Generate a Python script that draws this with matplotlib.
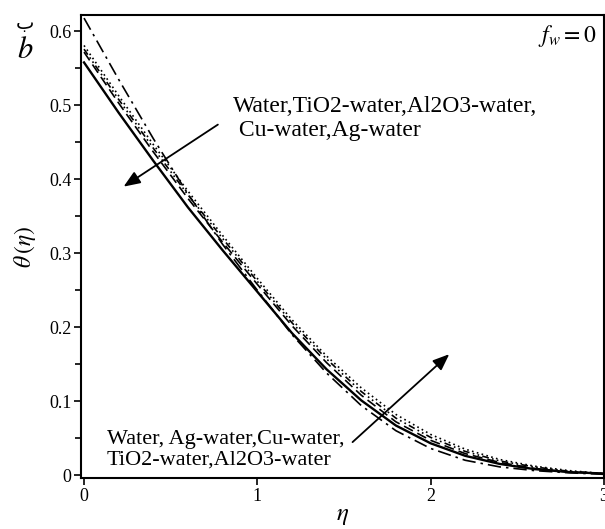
import numpy as np
import matplotlib.pyplot as plt

# eta grid and temperature profiles
eta = [0.0, 0.2, 0.4, 0.6, 0.8, 1.0, 1.2, 1.4, 1.6, 1.8, 2.0, 2.2, 2.4, 2.6, 2.8, 3.0]
water = [0.558, 0.490, 0.425, 0.362, 0.304, 0.248, 0.192, 0.143, 0.101, 0.067, 0.043, 0.026, 0.015, 0.008, 0.004, 0.002]
ag_water = [0.572, 0.503, 0.437, 0.374, 0.315, 0.258, 0.202, 0.152, 0.108, 0.072, 0.047, 0.029, 0.017, 0.009, 0.004, 0.002]
cu_water = [0.576, 0.508, 0.442, 0.379, 0.320, 0.262, 0.206, 0.157, 0.113, 0.077, 0.051, 0.032, 0.019, 0.011, 0.005, 0.002]
tio2_water = [0.581, 0.513, 0.447, 0.384, 0.324, 0.266, 0.210, 0.161, 0.118, 0.082, 0.055, 0.035, 0.021, 0.012, 0.006, 0.002]
al2o3_water = [0.618, 0.535, 0.455, 0.380, 0.312, 0.250, 0.190, 0.138, 0.094, 0.060, 0.036, 0.020, 0.011, 0.006, 0.003, 0.001]

plt.rcParams['font.family'] = ['Liberation Serif', 'DejaVu Sans']
plt.rcParams['mathtext.fontset'] = 'stix'

fig = plt.figure(figsize=(6.05, 5.29), dpi=100)
ax = fig.add_axes([0.134, 0.0964, 0.864, 0.875])

ax.plot(eta, water, color='black', lw=1.7, ls='-')
ax.plot(eta, ag_water, color='black', lw=1.2, ls=(0, (6, 3)))
ax.plot(eta, cu_water, color='black', lw=1.2, ls=(0, (4, 2, 1, 2, 1, 2)))
ax.plot(eta, tio2_water, color='black', lw=1.2, ls=(0, (1, 2)))
ax.plot(eta, al2o3_water, color='black', lw=1.2, ls=(0, (8, 3, 1.5, 3)))

ax.set_xlim(-0.017, 3.0)
ax.set_ylim(-0.004, 0.622)
ax.set_xticks([0, 1, 2, 3])
ax.set_yticks([0, 0.1, 0.2, 0.3, 0.4, 0.5, 0.6])
ax.set_yticklabels(['0', '0.1', '0.2', '0.3', '0.4', '0.5', '0.6'])
ax.set_yticks(np.arange(0.05, 0.6, 0.1), minor=True)
ax.tick_params(axis='both', which='major', direction='out', length=5, width=1.2, labelsize=13, pad=2)
ax.tick_params(axis='y', which='minor', direction='out', length=4, width=1.2)
for s in ax.spines.values():
    s.set_linewidth(1.5)

ax.set_xlabel(r'$\eta$', fontsize=18, labelpad=0)
ax.set_ylabel(r'$\theta\,(\eta)$', fontsize=17, labelpad=8)

# stray symbols printed at the top of the y axis
fig.text(0.042, 0.955, 'ب', fontsize=14, ha='center', va='center', family=['DejaVu Sans'])
fig.text(0.042, 0.905, r'$b$', fontsize=22, ha='center', va='center')

ax.text(0.985, 0.955, r'$f_w = 0$', transform=ax.transAxes, fontsize=17, ha='right', va='center')

ax.text(0.861, 0.482, 'Water,TiO2-water,Al2O3-water,\n Cu-water,Ag-water',
        fontsize=17, ha='left', va='center', linespacing=1.2)
ax.annotate('', xy=(0.215, 0.388), xytext=(0.786, 0.476),
            arrowprops=dict(arrowstyle='-|>,head_length=1.0,head_width=0.4', color='black', lw=1.3))

ax.text(0.133, 0.034, 'Water, Ag-water,Cu-water,\nTiO2-water,Al2O3-water',
        fontsize=16, ha='left', va='center', linespacing=1.15)
ax.annotate('', xy=(2.12, 0.166), xytext=(1.538, 0.042),
            arrowprops=dict(arrowstyle='-|>,head_length=1.0,head_width=0.4', color='black', lw=1.3))

fig.savefig('out.png', dpi=100)
